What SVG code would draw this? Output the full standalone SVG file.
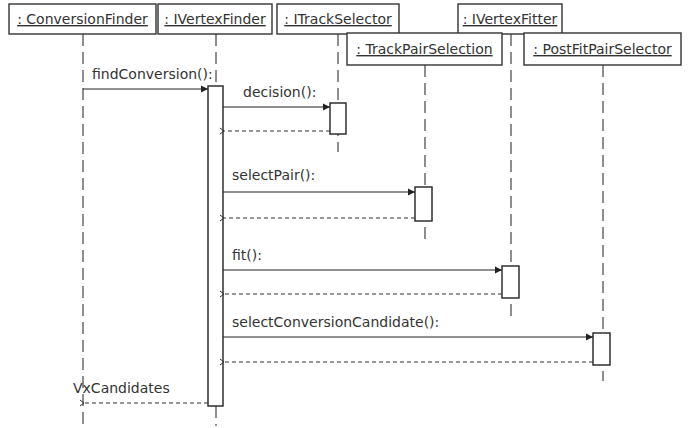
<svg xmlns="http://www.w3.org/2000/svg" width="694" height="428" viewBox="0 0 694 428">
<style>
.box{fill:#fff;stroke:#333;stroke-width:1.4}
.hdr{font-family:"DejaVu Sans",sans-serif;font-size:14px;fill:#333;text-anchor:middle;text-decoration:underline}
.lbl{font-family:"DejaVu Sans",sans-serif;font-size:14px;fill:#333}
.life{stroke:#444;stroke-width:1.2;stroke-dasharray:12 6;fill:none}
.act{fill:#fff;stroke:#222;stroke-width:1.4}
.call{stroke:#222;stroke-width:1.2;fill:none;marker-end:url(#fill)}
.ret{stroke:#333;stroke-width:1.2;stroke-dasharray:4 3;fill:none;marker-end:url(#open)}
</style>
<defs>
<marker id="fill" markerWidth="8" markerHeight="8" refX="7" refY="4" orient="auto" markerUnits="userSpaceOnUse">
<path d="M0,0.5 L7,4 L0,7.5 Z" fill="#222"/>
</marker>
<marker id="open" markerWidth="8" markerHeight="8" refX="1" refY="4" orient="auto-start-reverse" markerUnits="userSpaceOnUse">
<path d="M5,1 L1,4 L5,7" fill="none" stroke="#333" stroke-width="1"/>
</marker>
</defs>
<g id="lifelines">
<line class="life" x1="83" y1="34" x2="83" y2="428"/>
<line class="life" x1="216" y1="34" x2="216" y2="86"/>
<line class="life" x1="216" y1="406" x2="216" y2="426"/>
<line class="life" x1="338" y1="34" x2="338" y2="152"/>
<line class="life" x1="425" y1="65" x2="425" y2="242"/>
<line class="life" x1="511" y1="34" x2="511" y2="316"/>
<line class="life" x1="603" y1="65" x2="603" y2="381"/>
</g>
<g id="n-ConversionFinder"><rect class="box" x="9" y="4" width="147" height="30"/><text class="hdr" x="82.5" y="24">: ConversionFinder</text></g>
<g id="n-IVertexFinder"><rect class="box" x="158" y="4" width="114" height="30"/><text class="hdr" x="215" y="24">: IVertexFinder</text></g>
<g id="n-ITrackSelector"><rect class="box" x="277" y="4" width="122" height="30"/><text class="hdr" x="338" y="24">: ITrackSelector</text></g>
<g id="n-IVertexFitter"><rect class="box" x="458" y="4" width="104" height="30"/><text class="hdr" x="510" y="24">: IVertexFitter</text></g>
<g id="n-TrackPairSelection"><rect class="box" x="347" y="33" width="155" height="32"/><text class="hdr" x="424.5" y="54">: TrackPairSelection</text></g>
<g id="n-PostFitPairSelector"><rect class="box" x="524" y="33" width="157" height="32"/><text class="hdr" x="602.5" y="54">: PostFitPairSelector</text></g>
<g id="activations">
<rect class="act" x="208" y="86" width="15" height="320"/>
<rect class="act" x="330" y="103" width="16" height="31"/>
<rect class="act" x="415" y="187" width="17" height="34"/>
<rect class="act" x="502" y="266" width="17" height="32"/>
<rect class="act" x="593" y="333" width="17" height="32"/>
</g>
<g id="connectors">
<line class="call" x1="83" y1="89" x2="208" y2="89"/>
<line class="call" x1="223" y1="107" x2="330" y2="107"/>
<line class="ret" x1="330" y1="131" x2="224" y2="131"/>
<line class="call" x1="223" y1="192" x2="415" y2="192"/>
<line class="ret" x1="415" y1="218" x2="224" y2="218"/>
<line class="call" x1="223" y1="270" x2="502" y2="270"/>
<line class="ret" x1="502" y1="294" x2="224" y2="294"/>
<line class="call" x1="223" y1="337" x2="593" y2="337"/>
<line class="ret" x1="593" y1="362" x2="224" y2="362"/>
<line class="ret" x1="208" y1="403" x2="84" y2="403"/>
</g>
<g id="labels">
<text class="lbl" x="92" y="79">findConversion():</text>
<text class="lbl" x="243" y="97">decision():</text>
<text class="lbl" x="232" y="180">selectPair():</text>
<text class="lbl" x="232" y="260">fit():</text>
<text class="lbl" x="232" y="327">selectConversionCandidate():</text>
<text class="lbl" x="73" y="393">VxCandidates</text>
</g>
</svg>
